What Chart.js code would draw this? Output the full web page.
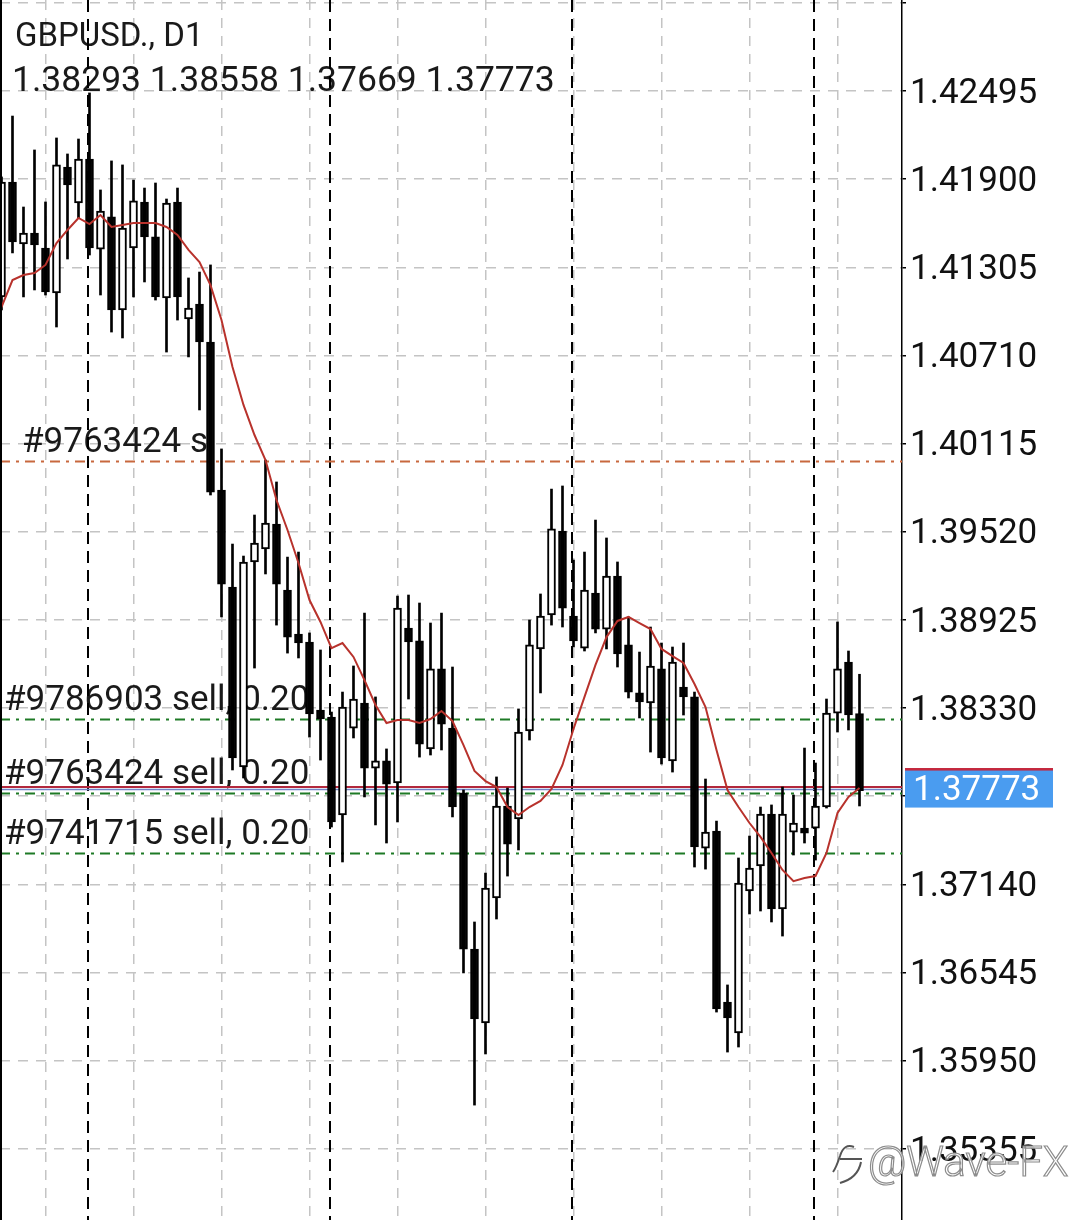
<!DOCTYPE html>
<html>
<head>
<meta charset="utf-8">
<script src="https://cdn.jsdelivr.net/npm/chart.js@4.4.1/dist/chart.umd.min.js"></script>
<style>
  html, body { margin: 0; padding: 0; background: #fff; }
  #wrap { width: 1080px; height: 1220px; position: relative; }
</style>
</head>
<body>
<div id="wrap"><canvas id="chart"></canvas></div>
<script>
const symbolTitle = "GBPUSD., D1";
const ohlcText = "1.38293 1.38558 1.37669 1.37773";

// daily bars, oldest first
const opens = [
  1.41105, 1.41881, 1.41462, 1.41536, 1.41435, 1.41132, 1.41982, 1.41739, 1.42036, 1.41428,
  1.41645, 1.41017, 1.41435, 1.41746, 1.41510, 1.41098, 1.41746, 1.40956, 1.41057, 1.40801,
  1.39802, 1.39147, 1.37932, 1.39316, 1.39404, 1.39572, 1.39127, 1.38830, 1.38776, 1.38317,
  1.38269, 1.37608, 1.38195, 1.38364, 1.37925, 1.37973, 1.37824, 1.38870, 1.38783, 1.38054,
  1.38594, 1.38195, 1.37757, 1.36703, 1.36204, 1.37048, 1.37669, 1.37581, 1.38175, 1.38729,
  1.38958, 1.39525, 1.38951, 1.38735, 1.39106, 1.38863, 1.39221, 1.38756, 1.38432, 1.38364,
  1.38594, 1.37973, 1.38472, 1.38405, 1.37385, 1.37500, 1.36346, 1.36137, 1.37095, 1.37264,
  1.37615, 1.36974, 1.37493, 1.37520, 1.37520, 1.37662, 1.38296, 1.38641, 1.38293
];
const highs = [
  1.41915, 1.42326, 1.41712, 1.42097, 1.41746, 1.42178, 1.42070, 1.42171, 1.42482, 1.41827,
  1.42023, 1.41996, 1.41894, 1.41840, 1.41874, 1.41766, 1.41840, 1.41233, 1.41273, 1.41321,
  1.40079, 1.39437, 1.39356, 1.39633, 1.40004, 1.39856, 1.39349, 1.39383, 1.38837, 1.38722,
  1.38303, 1.38438, 1.38614, 1.38971, 1.38405, 1.38054, 1.39086, 1.39093, 1.39039, 1.38904,
  1.38971, 1.38607, 1.37777, 1.36886, 1.37216, 1.37865, 1.37790, 1.38324, 1.38924, 1.39100,
  1.39808, 1.39829, 1.39329, 1.39383, 1.39599, 1.39478, 1.39316, 1.38945, 1.38708, 1.38877,
  1.38769, 1.38742, 1.38769, 1.38438, 1.37851, 1.37567, 1.36461, 1.37318, 1.37466, 1.37662,
  1.37676, 1.37797, 1.37743, 1.38060, 1.37959, 1.38391, 1.38911, 1.38715, 1.38558
];
const lows = [
  1.41017, 1.41402, 1.41105, 1.41152, 1.41118, 1.40902, 1.41361, 1.41638, 1.41388, 1.41118,
  1.40868, 1.40828, 1.41105, 1.41206, 1.41084, 1.40733, 1.40949, 1.40700, 1.40342, 1.39768,
  1.38945, 1.37912, 1.37858, 1.38600, 1.39235, 1.38890, 1.38701, 1.38668, 1.38134, 1.37979,
  1.37527, 1.37291, 1.38128, 1.37730, 1.37541, 1.37419, 1.37561, 1.38391, 1.37999, 1.38013,
  1.38047, 1.37595, 1.36542, 1.35650, 1.35995, 1.36906, 1.37196, 1.37372, 1.38114, 1.38432,
  1.38890, 1.38877, 1.38742, 1.38715, 1.38837, 1.38729, 1.38607, 1.38398, 1.38263, 1.38033,
  1.37952, 1.37898, 1.38283, 1.37257, 1.37243, 1.36278, 1.36008, 1.36042, 1.36940, 1.36960,
  1.36886, 1.36791, 1.37338, 1.37419, 1.37304, 1.37655, 1.38168, 1.38182, 1.37669
];
const closes = [
  1.41881, 1.41476, 1.41536, 1.41456, 1.41138, 1.41996, 1.41861, 1.42036, 1.41435, 1.41685,
  1.41017, 1.41570, 1.41753, 1.41510, 1.41105, 1.41739, 1.41105, 1.41030, 1.40801, 1.39788,
  1.39167, 1.37993, 1.39316, 1.39444, 1.39579, 1.39167, 1.38809, 1.38769, 1.38290, 1.38256,
  1.37561, 1.38337, 1.38391, 1.37925, 1.37973, 1.37817, 1.39005, 1.38776, 1.38087, 1.38594,
  1.38222, 1.37662, 1.36703, 1.36231, 1.37115, 1.37669, 1.37412, 1.38168, 1.38756, 1.38951,
  1.39539, 1.39005, 1.38783, 1.39127, 1.38863, 1.39221, 1.38695, 1.38438, 1.38371, 1.38614,
  1.37993, 1.38641, 1.38405, 1.37392, 1.37493, 1.36299, 1.36238, 1.37149, 1.37250, 1.37615,
  1.36974, 1.37615, 1.37554, 1.37486, 1.37669, 1.38296, 1.38594, 1.38283, 1.37773
];
// moving average as drawn on the chart
const maValues = [
  1.41037, 1.41219, 1.41253, 1.41266, 1.41321, 1.41469, 1.41557, 1.41638, 1.41597, 1.41658,
  1.41577, 1.41590, 1.41604, 1.41604, 1.41604, 1.41577, 1.41523, 1.41422, 1.41341, 1.41185,
  1.40949, 1.40632, 1.40376, 1.40173, 1.40004, 1.39734, 1.39532, 1.39309, 1.39059, 1.38911,
  1.38735, 1.38769, 1.38675, 1.38519, 1.38351, 1.38229, 1.38249, 1.38249, 1.38229, 1.38256,
  1.38310, 1.38242, 1.38080, 1.37905, 1.37837, 1.37797, 1.37662, 1.37608, 1.37662, 1.37703,
  1.37784, 1.37946, 1.38189, 1.38405, 1.38621, 1.38809, 1.38918, 1.38945, 1.38904, 1.38863,
  1.38729, 1.38681, 1.38634, 1.38492, 1.38337, 1.38047, 1.37777, 1.37662, 1.37554, 1.37460,
  1.37352, 1.37237, 1.37162, 1.37183, 1.37196, 1.37352, 1.37622, 1.37730, 1.37790
];

const priceTicks = [1.43090, 1.42495, 1.41900, 1.41305, 1.40710, 1.40115, 1.39520,
  1.38925, 1.38330, 1.37735, 1.37140, 1.36545, 1.35950, 1.35355];
const hiddenTicks = [1.43090, 1.37735];
const barGridTicks = [0, 8, 16, 24, 32, 40, 48, 56, 64, 72, 80];
const monthStarts = [8, 30, 52, 74];

const orderLabels = ["#9763424 s", "#9786903 sell, 0.20", "#9763424 sell, 0.20", "#9741715 sell, 0.20"];
const orderPrices = [1.39998, 1.38256, 1.37757, 1.37352];
const orderKinds = ["sl", "sell", "sell", "sell"];
const askPrice = 1.37797;
const bidPrice = 1.37773;
const bidText = "1.37773";

const FONT = 'Roboto, "Noto Sans", sans-serif';
Chart.defaults.font.family = FONT;

const idx = opens.map((_, i) => i);
const wickData = idx.map(i => ({ x: i, y: [lows[i], highs[i]] }));
const bodyData = idx.map(i => ({ x: i, y: [opens[i], closes[i]] }));
const bodyFill = idx.map(i => (closes[i] >= opens[i] ? '#ffffff' : '#000000'));
const maData = idx.map(i => ({ x: i, y: maValues[i] }));

function dashLine(ctx, y, x0, x1, color, dash, width) {
  ctx.save();
  ctx.strokeStyle = color;
  ctx.lineWidth = width;
  ctx.setLineDash(dash);
  ctx.beginPath();
  ctx.moveTo(x0, y);
  ctx.lineTo(x1, y);
  ctx.stroke();
  ctx.restore();
}

const overlay = {
  id: 'overlay',
  beforeDatasetsDraw(chart) {
    const { ctx, chartArea: a, scales: { x, y } } = chart;
    ctx.save();
    ctx.fillStyle = '#1a1a1a';
    ctx.textAlign = 'left';
    ctx.textBaseline = 'alphabetic';
    ctx.font = '33px ' + FONT;
    ctx.fillText(symbolTitle, 15, 46);
    ctx.font = '35.5px ' + FONT;
    ctx.fillText(ohlcText, 12, 91);

    ctx.font = '35px ' + FONT;
    orderPrices.forEach((p, k) => {
      const py = y.getPixelForValue(p);
      ctx.fillText(orderLabels[k], orderKinds[k] === 'sl' ? 22 : 4, py - 9);
    });

    // month separators
    ctx.strokeStyle = '#000';
    ctx.lineWidth = 2;
    ctx.setLineDash([12, 7]);
    monthStarts.forEach(i => {
      const px = Math.round(x.getPixelForValue(i)) - 1;
      ctx.beginPath();
      ctx.moveTo(px, a.top);
      ctx.lineTo(px, a.bottom);
      ctx.stroke();
    });
    ctx.restore();

    // order lines
    orderPrices.forEach((p, k) => {
      const py = Math.round(y.getPixelForValue(p)) + 0.5;
      const col = orderKinds[k] === 'sl' ? '#c8683e' : '#1e7a26';
      dashLine(ctx, py, a.left, a.right, col, [10, 6, 3, 6], 2);
    });
    dashLine(ctx, y.getPixelForValue(askPrice), a.left, a.right, '#b3283c', [], 2);
    dashLine(ctx, y.getPixelForValue(bidPrice) - 1, a.left, a.right, '#6f84c8', [], 1.5);
  },
  afterDraw(chart) {
    const { ctx, chartArea: a, scales: { y } } = chart;
    ctx.save();
    ctx.fillStyle = '#000';
    ctx.fillRect(0, 0, 2, chart.height);

    // price labels on the axis
    const boxX = a.right + 3, boxW = 148, boxH = 37;
    const askY = y.getPixelForValue(askPrice);
    const bidY = y.getPixelForValue(bidPrice);
    ctx.fillStyle = '#c4283e';
    ctx.fillRect(boxX, askY - 19, boxW, boxH);
    ctx.fillStyle = '#4a9cf0';
    ctx.fillRect(boxX, bidY - 20, boxW, boxH);
    ctx.fillStyle = '#ffffff';
    ctx.font = '35px ' + FONT;
    ctx.textBaseline = 'middle';
    ctx.fillText(bidText, boxX + 8, bidY + 1);

    // watermark
    ctx.textBaseline = 'alphabetic';
    ctx.font = '300 42px ' + FONT;
    ctx.lineWidth = 1.2;
    ctx.strokeStyle = '#8c8c8c';
    ctx.fillStyle = 'rgba(255,255,255,0.85)';
    ctx.fillText('@Wave-FX', 868, 1176);
    ctx.strokeText('@Wave-FX', 868, 1176);
    ctx.lineWidth = 2;
    ctx.strokeStyle = '#555';
    ctx.beginPath();
    ctx.moveTo(854, 1147);
    ctx.quadraticCurveTo(844, 1143, 840, 1156);
    ctx.quadraticCurveTo(836, 1168, 833, 1172);
    ctx.moveTo(840, 1159);
    ctx.lineTo(862, 1159);
    ctx.moveTo(861, 1162);
    ctx.quadraticCurveTo(858, 1178, 840, 1183);
    ctx.stroke();
    ctx.restore();
  }
};

new Chart(document.getElementById('chart'), {
  type: 'bar',
  data: {
    datasets: [
      {
        type: 'line',
        data: maData,
        borderColor: '#b8322c',
        borderWidth: 2,
        pointRadius: 0,
        tension: 0,
        order: 0
      },
      {
        data: bodyData,
        backgroundColor: bodyFill,
        borderColor: '#000',
        borderWidth: 2,
        borderSkipped: false,
        barThickness: 8,
        grouped: false,
        order: 1
      },
      {
        data: wickData,
        backgroundColor: '#000',
        borderWidth: 0,
        barThickness: 2,
        grouped: false,
        order: 2
      }
    ]
  },
  options: {
    responsive: true,
    maintainAspectRatio: false,
    animation: false,
    layout: { padding: 0 },
    plugins: { legend: { display: false }, tooltip: { enabled: false } },
    scales: {
      x: {
        type: 'linear',
        min: -0.136,
        max: 81.864,
        offset: false,
        afterBuildTicks: s => { s.ticks = barGridTicks.map(v => ({ value: v })); },
        afterFit: s => { s.height = 0; s.paddingLeft = 0; s.paddingRight = 0; },
        ticks: { display: false },
        grid: { color: '#c4c4c4', lineWidth: 1.5, drawTicks: false },
        border: { display: false, dash: [10, 8] }
      },
      y: {
        position: 'right',
        min: 1.348744,
        max: 1.4310924,
        afterBuildTicks: s => { s.ticks = priceTicks.map(v => ({ value: v })); },
        afterFit: s => { s.width = 178; s.paddingTop = 0; s.paddingBottom = 0; },
        ticks: {
          autoSkip: false,
          padding: 4,
          labelOffset: 3,
          color: '#111',
          font: { size: 35 },
          callback: v => (hiddenTicks.some(h => Math.abs(h - v) < 1e-6) ? '' : v.toFixed(5))
        },
        grid: { color: '#c4c4c4', lineWidth: 1.5, drawTicks: true, tickLength: 4, tickColor: '#000', tickWidth: 1.5 },
        border: { display: true, color: '#000', width: 1.5, dash: [10, 8] }
      }
    }
  },
  plugins: [overlay]
});
</script>
</body>
</html>
